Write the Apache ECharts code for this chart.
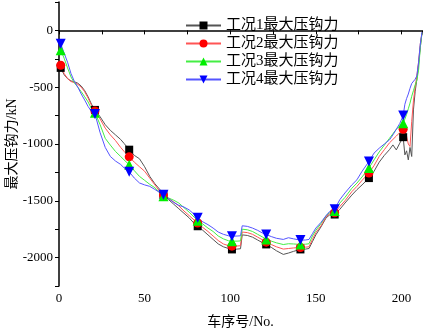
<!DOCTYPE html>
<html>
<head>
<meta charset="utf-8">
<script src="https://cdn.jsdelivr.net/npm/echarts@6/dist/echarts.min.js"></script>
<style>
  html, body { margin: 0; padding: 0; background: #fff; }
  #main { width: 425px; height: 332px; }
</style>
</head>
<body>
<div id="main"></div>
<script>
var xs = [1, 3, 5, 7, 9, 11, 13, 15, 17, 19, 21, 24, 27, 30, 33, 36, 38, 41, 44, 47, 50, 53, 56, 59,
  61, 64, 67, 70, 73, 76, 79, 81, 84, 87, 90, 93, 96, 99, 101, 104, 106, 107, 110, 113, 116, 119,
  121, 124, 127, 131, 134, 137, 141, 144, 146, 148, 150, 153, 156, 158, 161, 164, 167, 171, 174, 177,
  181, 184, 187, 190, 193, 195, 197, 199, 201, 202, 203, 204, 205, 206, 207, 208, 209, 210, 211, 212];

var case1 = [-330, -390, -425, -445, -452, -465, -490, -530, -585, -650, -700, -760, -830, -880, -920, -960, -995, -1050, -1100, -1130, -1200, -1285, -1350, -1402,
  -1450, -1490, -1530, -1570, -1610, -1650, -1700, -1724, -1760, -1800, -1840, -1880, -1905, -1920, -1928, -1925, -1922, -1800, -1805, -1820, -1845, -1870,
  -1884, -1910, -1940, -1972, -1960, -1945, -1928, -1925, -1920, -1860, -1800, -1730, -1650, -1625, -1621, -1575, -1520, -1450, -1402, -1360,
  -1300, -1240, -1160, -1100, -1050, -1008, -1052, -993, -940, -1096, -1060, -1140, -1030, -1110, -700, -540, -430, -300, -150, -20];

var case2 = [-307, -380, -423, -450, -460, -475, -500, -540, -595, -660, -710, -780, -860, -920, -970, -1030, -1065, -1113, -1160, -1200, -1240, -1300, -1360, -1420,
  -1450, -1480, -1510, -1545, -1590, -1630, -1670, -1695, -1735, -1770, -1810, -1850, -1880, -1895, -1899, -1898, -1895, -1775, -1780, -1795, -1820, -1845,
  -1864, -1885, -1905, -1925, -1920, -1915, -1911, -1908, -1905, -1840, -1780, -1720, -1640, -1615, -1605, -1550, -1500, -1420, -1373, -1320,
  -1256, -1190, -1110, -1050, -990, -960, -930, -900, -870, -880, -930, -1000, -1022, -800, -620, -500, -400, -280, -120, -20];

var case3 = [-175, -245, -330, -410, -462, -500, -540, -584, -630, -690, -725, -830, -950, -1010, -1066, -1110, -1140, -1183, -1235, -1285, -1320, -1355, -1385, -1430,
  -1460, -1475, -1495, -1520, -1560, -1600, -1645, -1675, -1705, -1740, -1770, -1810, -1835, -1852, -1855, -1855, -1853, -1750, -1755, -1770, -1795, -1820,
  -1840, -1855, -1870, -1885, -1878, -1880, -1884, -1882, -1878, -1810, -1760, -1700, -1630, -1605, -1590, -1520, -1470, -1390, -1344, -1290,
  -1212, -1140, -1070, -1010, -950, -910, -870, -840, -818, -780, -740, -690, -640, -580, -530, -480, -438, -350, -150, -20];

var case4 = [-117, -200, -280, -380, -450, -500, -560, -613, -670, -715, -735, -900, -1030, -1110, -1150, -1180, -1210, -1245, -1300, -1343, -1360, -1373, -1400, -1430,
  -1446, -1480, -1515, -1540, -1555, -1580, -1620, -1650, -1685, -1710, -1740, -1775, -1795, -1808, -1811, -1810, -1808, -1720, -1725, -1740, -1760, -1785,
  -1797, -1815, -1830, -1840, -1825, -1835, -1846, -1845, -1840, -1790, -1740, -1690, -1630, -1595, -1575, -1490, -1431, -1360, -1315, -1240,
  -1155, -1080, -1037, -1000, -964, -920, -870, -820, -750, -650, -600, -560, -510, -467, -450, -430, -400, -280, -120, -15];

var names = ['工况1最大压钩力', '工况2最大压钩力', '工况3最大压钩力', '工况4最大压钩力'];
var xLabels = [0, 50, 100, 150, 200];
var yLabels = [0, -500, -1000, -1500, -2000];

var font = "'Liberation Serif', 'Noto Sans CJK SC', serif";
var markColors = ['#000000', '#ff0000', '#00ee00', '#0000ff'];
var lineColors = ['#555555', '#ff5555', '#44ee44', '#5555ff'];
var symbols = ['rect', 'circle', 'triangle', 'triangle'];
var symbolSizes = [8, 9, 10, 10];
var rotates = [0, 0, 0, 180];

function build(vals) {
  return xs.map(function (x, i) {
    var item = { value: [x, vals[i]] };
    if ((x - 1) % 20 !== 0) item.symbol = 'none';
    return item;
  });
}

var series = [case1, case2, case3, case4].map(function (vals, k) {
  return {
    name: names[k],
    type: 'line',
    data: build(vals),
    symbol: symbols[k],
    symbolSize: symbolSizes[k],
    symbolRotate: rotates[k],
    showAllSymbol: true,
    itemStyle: { color: markColors[k] },
    lineStyle: { color: lineColors[k], width: 1 },
    emphasis: { disabled: true }
  };
});

var myChart = echarts.init(document.getElementById('main'), null, { renderer: 'canvas' });

var option = {
  animation: false,
  backgroundColor: '#ffffff',
  grid: { left: 59, right: 3, top: 2, bottom: 46, containLabel: false, outerBoundsMode: 'none' },
  legend: {
    orient: 'vertical',
    left: 185,
    top: 18,
    padding: 0,
    itemWidth: 35,
    itemHeight: 10,
    itemGap: 3,
    textStyle: { fontFamily: font, fontSize: 15, color: '#000' },
    data: names
  },
  xAxis: {
    type: 'value',
    min: 0,
    max: 212,
    interval: 25,
    name: '车序号/No.',
    nameLocation: 'middle',
    nameGap: 29,
    nameMoveOverlap: false,
    nameTextStyle: { fontFamily: font, fontSize: 14, color: '#000' },
    axisLine: { lineStyle: { color: '#000', width: 1.5 } },
    axisTick: { inside: false, length: 4, lineStyle: { color: '#000' } },
    splitLine: { show: false },
    axisLabel: {
      fontFamily: font, fontSize: 13, color: '#000', margin: 6,
      formatter: function (v) { return xLabels.indexOf(v) >= 0 ? String(v) : ''; }
    }
  },
  yAxis: {
    type: 'value',
    min: -2250,
    max: 250,
    interval: 250,
    name: '最大压钩力/kN',
    nameLocation: 'middle',
    nameGap: 47,
    nameRotate: 90,
    nameMoveOverlap: false,
    nameTextStyle: { fontFamily: font, fontSize: 14, color: '#000', verticalAlign: 'middle' },
    axisLine: { show: true, lineStyle: { color: '#000', width: 1.5 } },
    axisTick: { show: true, inside: false, length: 4, lineStyle: { color: '#000' } },
    splitLine: { show: false },
    axisLabel: {
      fontFamily: font, fontSize: 13, color: '#000', margin: 6,
      formatter: function (v) { return yLabels.indexOf(v) >= 0 ? String(v) : ''; }
    }
  },
  series: series
};

myChart.setOption(option);
window.addEventListener('resize', myChart.resize);
</script>
</body>
</html>
